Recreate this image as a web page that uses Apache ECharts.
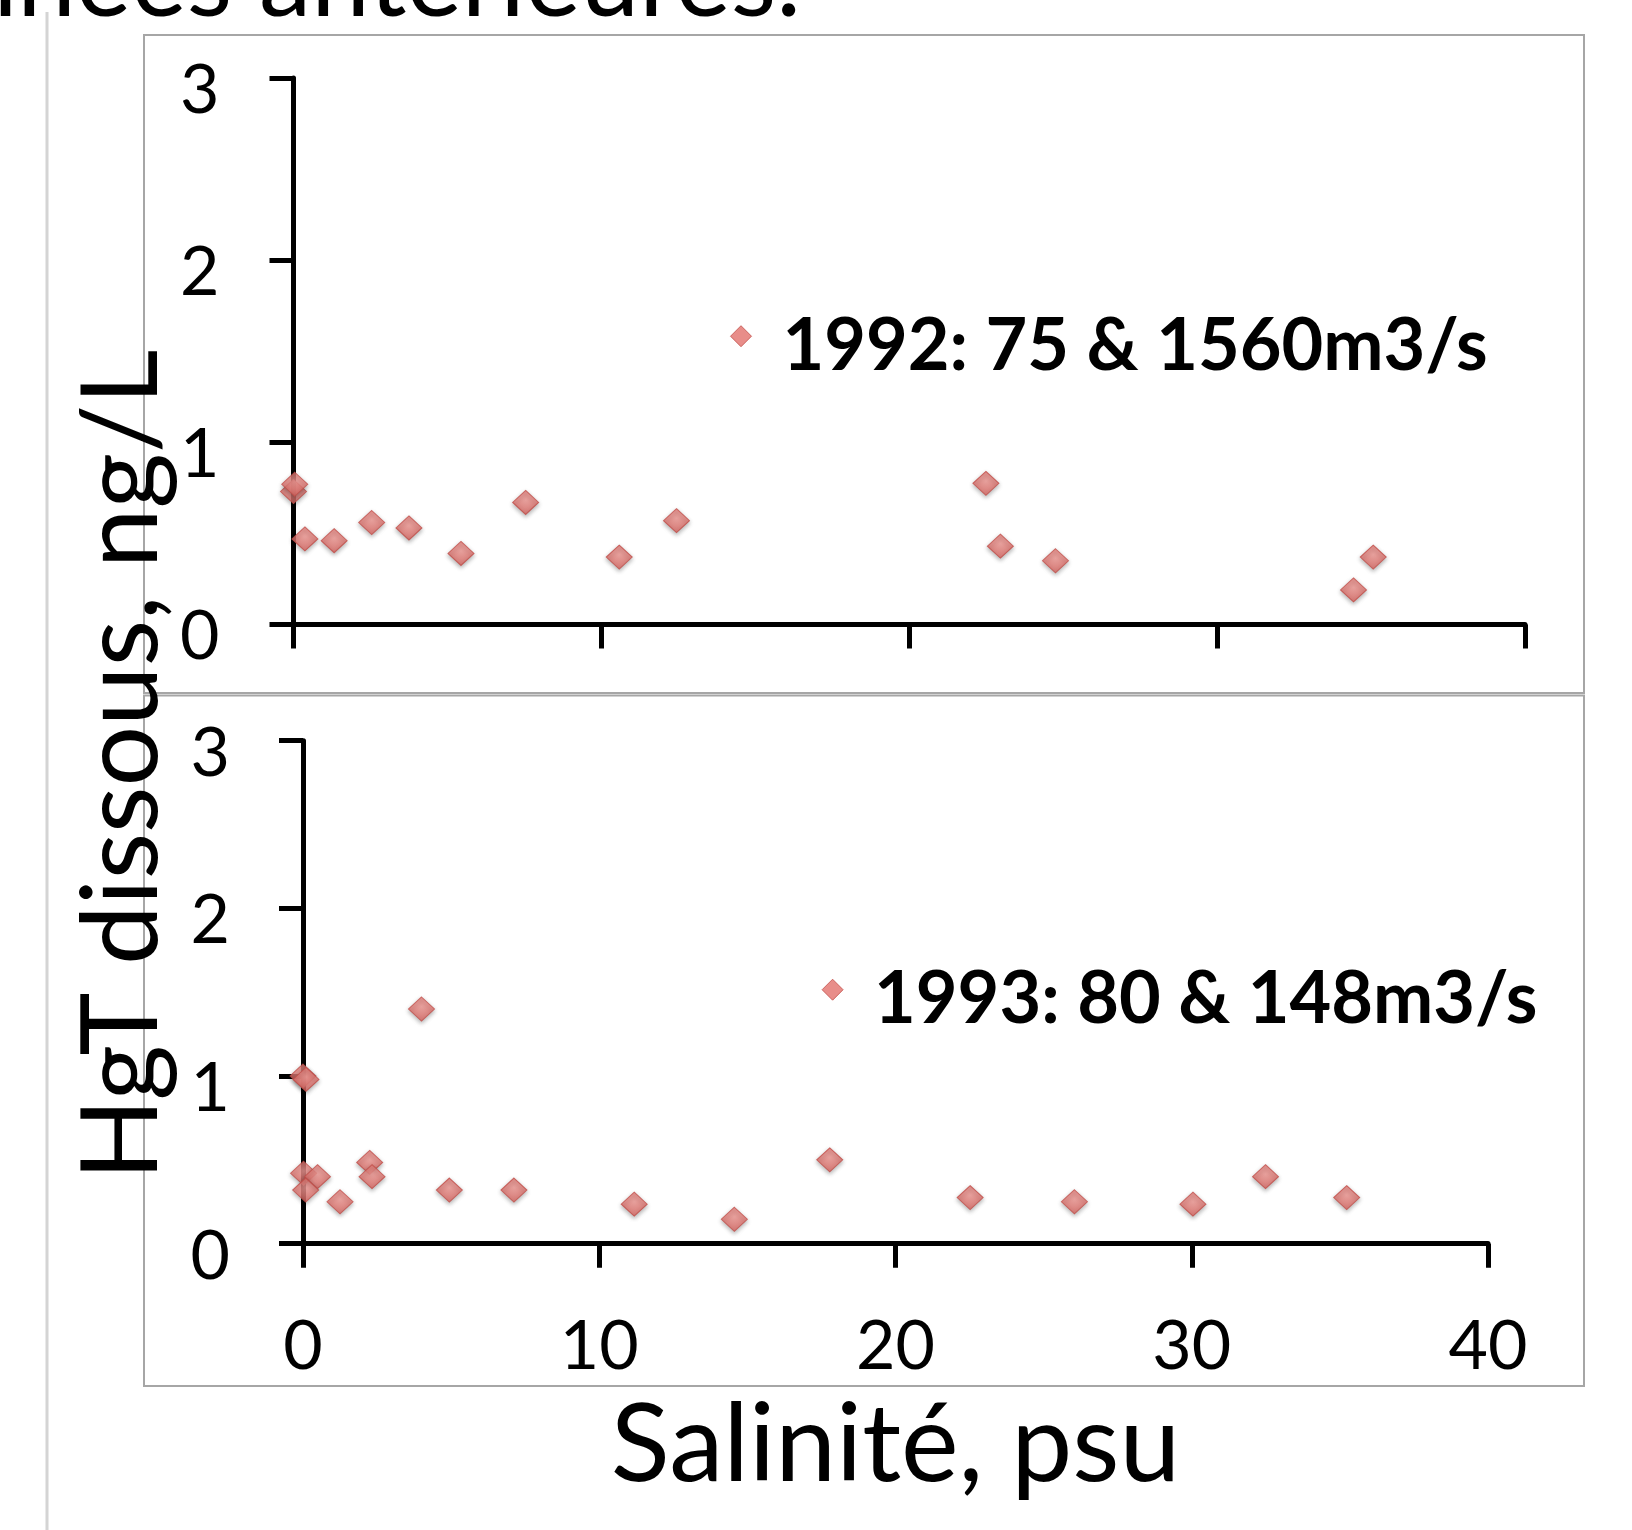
<!DOCTYPE html>
<html><head><meta charset="utf-8">
<script src="https://cdn.jsdelivr.net/npm/echarts@6/dist/echarts.min.js"></script>
<style>html,body{margin:0;padding:0;background:#fff}#c{width:1632px;height:1530px}</style>
</head><body><div id="c"></div>
<script>
// ---- data ----
const series1992Name = '1992: 75 & 1560m3/s';
const series1993Name = '1993: 80 & 148m3/s';
const salinity1992 = [0.0, 0.04, 0.37, 1.32, 2.54, 3.75, 5.44, 7.54, 10.58, 12.44, 22.49, 22.96, 24.75, 34.43, 35.07];
const hgt1992      = [0.73, 0.77, 0.47, 0.46, 0.56, 0.53, 0.39, 0.67, 0.37, 0.57, 0.775, 0.43, 0.35, 0.19, 0.37];
const salinity1993 = [0.0, 0.1, 4.0, 0.02, 0.49, 0.09, 1.25, 2.25, 2.33, 4.94, 7.12, 11.18, 14.56, 17.78, 22.52, 26.04, 30.04, 32.49, 35.23];
const hgt1993      = [1.0, 0.98, 1.40, 0.42, 0.40, 0.32, 0.25, 0.485, 0.40, 0.32, 0.32, 0.236, 0.146, 0.50, 0.275, 0.25, 0.236, 0.40, 0.275];
const yTickValues = [0, 1, 2, 3];
const xTickValues = [0, 10, 20, 30, 40];
const xAxisTitle = 'Salinité, psu';
const yAxisTitle = 'HgT dissous, ng/L';
const headerText = 'années antérieures.';

// ---- styling ----
const FONT = 'Lato';
const markerStyle = {
  color: new echarts.graphic.RadialGradient(0.5, 0.4, 0.7, [
    {offset: 0, color: '#F29A95'}, {offset: 1, color: '#D85C57'}
  ]),
  borderColor: '#C24D49', borderWidth: 1,
  shadowBlur: 4, shadowColor: 'rgba(0,0,0,0.35)', shadowOffsetY: 2
};
// legend diamond drawn in the upper part of its icon box (lone moveTo enlarges the box)
const legendIcon = 'path://M0,0L10,10L0,20L-10,10Z M0,39.6';
function pairs(xs, ys) { return xs.map((x, i) => [x, ys[i]]); }
const yMin = yTickValues[0], yMax = yTickValues[yTickValues.length - 1];
const xMin = xTickValues[0], xMax = xTickValues[xTickValues.length - 1];
const yStep = yTickValues[1] - yTickValues[0];
const xStep = xTickValues[1] - xTickValues[0];
const lineBlack = {color: '#000', width: 5};

function xAxisCfg(idx, showLabels) {
  const c = {
    gridIndex: idx, type: 'value', min: xMin, max: xMax, interval: xStep,
    axisLine: {show: true, onZero: false, lineStyle: lineBlack},
    axisTick: {show: true, inside: false, length: 24, lineStyle: lineBlack},
    splitLine: {show: false},
    axisLabel: {show: showLabels, fontFamily: FONT, fontSize: 68, color: '#000',
      margin: 103, verticalAlign: 'middle'}
  };
  if (showLabels) {
    c.name = xAxisTitle;
    c.nameLocation = 'middle';
    c.nameGap = 202;
    c.nameTextStyle = {fontFamily: FONT, fontSize: 109, color: '#000', verticalAlign: 'middle'};
  }
  return c;
}
function yAxisCfg(idx, margin) {
  return {
    gridIndex: idx, type: 'value', min: yMin, max: yMax, interval: yStep,
    axisLine: {show: true, onZero: false, lineStyle: lineBlack},
    axisTick: {show: true, inside: false, length: 24, lineStyle: lineBlack},
    splitLine: {show: false},
    axisLabel: {fontFamily: FONT, fontSize: 68, color: '#000', margin: margin,
      lineHeight: 26, verticalAlign: 'top'}
  };
}
function legendCfg(name, left, top) {
  return {
    data: [name], left: left, top: top, padding: 0, orient: 'horizontal',
    icon: legendIcon, itemWidth: 21, itemHeight: 41.6,
    itemStyle: {color: '#E2706B', borderColor: '#C24D49', borderWidth: 1, shadowBlur: 0, shadowOffsetY: 0},
    textStyle: {fontFamily: FONT, fontWeight: 'bold', fontSize: 72, lineHeight: 72,
      color: '#000', padding: [0, 0, 0, 26]},
    selectedMode: false
  };
}

const chart = echarts.init(document.getElementById('c'), null, {renderer: 'canvas'});
chart.setOption({
  animation: false,
  backgroundColor: '#fff',
  grid: [
    {left: 293.5, top: 78, width: 1231.5, height: 546.5},
    {left: 303, top: 740.7, width: 1185, height: 503}
  ],
  xAxis: [xAxisCfg(0, false), xAxisCfg(1, true)],
  yAxis: [yAxisCfg(0, 74), yAxisCfg(1, 73)],
  legend: [legendCfg(series1992Name, 730, 310.5), legendCfg(series1993Name, 821.6, 964)],
  series: [
    {name: series1992Name, type: 'scatter', xAxisIndex: 0, yAxisIndex: 0,
      symbol: 'diamond', symbolSize: [26, 24], itemStyle: markerStyle,
      data: pairs(salinity1992, hgt1992), clip: false},
    {name: series1993Name, type: 'scatter', xAxisIndex: 1, yAxisIndex: 1,
      symbol: 'diamond', symbolSize: [26, 24], itemStyle: markerStyle,
      data: pairs(salinity1993, hgt1993), clip: false}
  ],
  graphic: [
    {type: 'rect', z: -1, shape: {x: 47, y: 12, width: 0, height: 1530},
      style: {fill: null, stroke: '#D4D4D4', lineWidth: 3}},
    {type: 'rect', z: -1, shape: {x: 144, y: 35, width: 1440, height: 658},
      style: {fill: null, stroke: '#A6A6A6', lineWidth: 2}},
    {type: 'rect', z: -1, shape: {x: 144, y: 695.5, width: 1440, height: 690.5},
      style: {fill: null, stroke: '#A6A6A6', lineWidth: 2}},
    {type: 'text', x: 801, y: -18, z: 10,
      style: {text: headerText, fontFamily: FONT, fontSize: 105, fill: '#000',
        align: 'right', verticalAlign: 'middle'}},
    {type: 'text', x: 122, y: 765, rotation: Math.PI / 2, z: 10,
      style: {text: yAxisTitle, fontFamily: FONT, fontSize: 107, fill: '#000',
        align: 'center', verticalAlign: 'middle'}}
  ]
});
</script></body></html>
